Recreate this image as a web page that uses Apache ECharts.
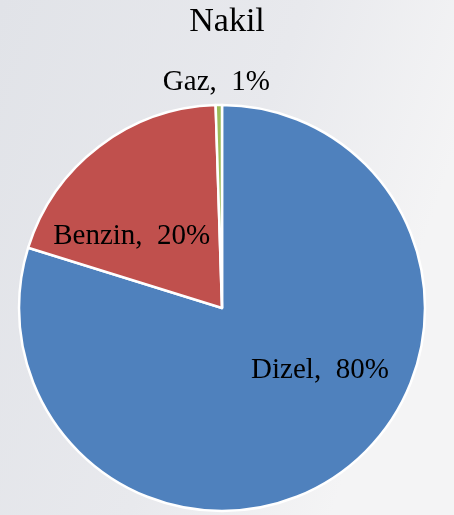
<!DOCTYPE html>
<html>
<head>
<meta charset="utf-8">
<script src="https://cdn.jsdelivr.net/npm/echarts@6/dist/echarts.min.js"></script>
<style>
  html, body { margin: 0; padding: 0; }
  #chart { width: 454px; height: 515px; }
</style>
</head>
<body>
<div id="chart"></div>
<script>
// 数据
var names = ['Dizel', 'Benzin', 'Gaz'];
var values = [79.8, 19.7, 0.5];
var colors = ['#4F81BD', '#C0504D', '#9BBB59'];
var titleText = 'Nakil';

// 标签微调 (dx, dy)
var labelShift = [[36, -22], [-27, 12], [-4, -121]];

var serif = 'Liberation Serif, Times New Roman, DejaVu Serif, serif';

var pieData = [];
for (var i = 0; i < names.length; i++) {
    pieData.push({
        value: values[i],
        name: names[i],
        itemStyle: { color: colors[i] }
    });
}

var myChart = echarts.init(document.getElementById('chart'));
var option = {
    backgroundColor: {
        type: 'linear', x: 0, y: 0, x2: 1, y2: 0.3,
        colorStops: [
            { offset: 0, color: '#E1E3E8' },
            { offset: 0.6, color: '#E8E9ED' },
            { offset: 1, color: '#F4F4F5' }
        ]
    },
    title: {
        text: titleText,
        left: 'center',
        top: 0,
        textStyle: { fontFamily: serif, fontSize: 34, fontWeight: 'normal', color: '#000' }
    },
    series: [
        {
            type: 'pie',
            center: [222, 308],
            radius: [0, 203],
            startAngle: 90,
            clockwise: true,
            animation: false,
            itemStyle: { borderColor: '#fff', borderWidth: 2.5 },
            label: {
                position: 'inside',
                fontFamily: serif,
                fontSize: 29,
                color: '#000',
                formatter: function (p) {
                    return p.name + ',  ' + Math.round(p.percent) + '%';
                }
            },
            labelLine: { show: false },
            labelLayout: function (params) {
                var s = labelShift[params.dataIndex];
                return { dx: s[0], dy: s[1] };
            },
            emphasis: { disabled: true },
            data: pieData
        }
    ]
};
myChart.setOption(option);
window.onresize = myChart.resize;
</script>
</body>
</html>
